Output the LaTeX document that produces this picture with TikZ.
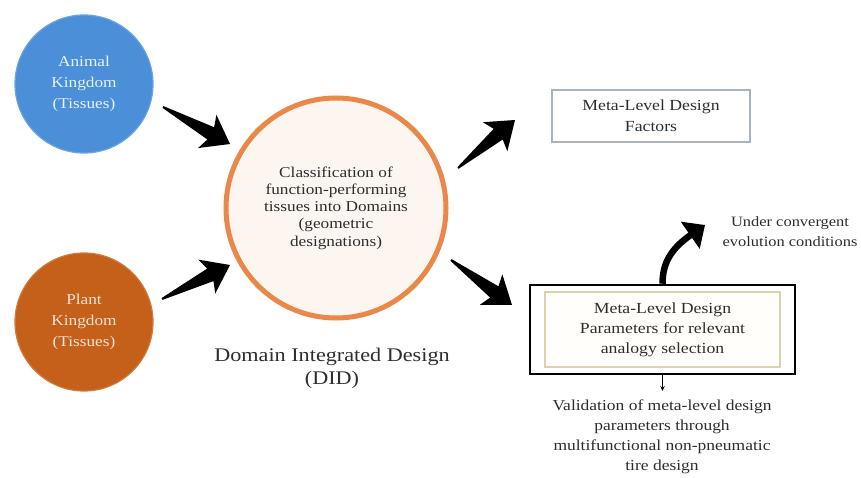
\documentclass[tikz,border=0pt]{standalone}
\usepackage{fontspec}
\setmainfont[FakeStretch=1.15]{Liberation Serif}
\usetikzlibrary{calc,arrows.meta}
\definecolor{textgray}{HTML}{2E2E2E}
\definecolor{animalblue}{HTML}{4A8FD8}
\definecolor{animaledge}{HTML}{6AA3E2}
\definecolor{plantorange}{HTML}{C4601A}
\definecolor{plantedge}{HTML}{D47A3C}
\definecolor{ringorange}{HTML}{E8894A}
\definecolor{ringfill}{HTML}{FDF5F0}
\definecolor{factorsedge}{HTML}{A9B4C2}
\definecolor{inneredge}{HTML}{DCD2B0}
\definecolor{innerfill}{HTML}{FFFEFA}
\newcommand{\blockarrow}[2]{%
  \fill[black] ($(#1)!1pt!90:(#2)$) -- ($(#2)!22pt!(#1)!7pt!-90:(#1)$)
    -- ($(#2)!26pt!(#1)!19pt!-90:(#1)$) -- (#2)
    -- ($(#2)!26pt!(#1)!19pt!90:(#1)$) -- ($(#2)!22pt!(#1)!7pt!90:(#1)$)
    -- ($(#1)!1pt!-90:(#2)$) -- cycle;}
\begin{document}
\begin{tikzpicture}[x=1pt,y=-1pt,
  kingdom/.style={circle, minimum size=138pt, inner sep=0pt, line width=1.2pt,
    align=center, font=\fontsize{15}{21}\selectfont},
  bodytext/.style={text=textgray, align=center, inner sep=2pt},
  ]
\useasboundingbox[fill=white] (0,0) rectangle (861,478);

% kingdoms
\node[kingdom, fill=animalblue, draw=animaledge, text=white!88!animalblue] (animal) at (84,84)
  {Animal\\Kingdom\\(Tissues)};
\node[kingdom, fill=plantorange, draw=plantedge, text=white!82!plantorange] (plant) at (84,322)
  {Plant\\Kingdom\\(Tissues)};

% central circle
\node[circle, minimum size=220pt, inner sep=0pt, draw=ringorange, line width=5pt,
  fill=ringfill, bodytext, font=\fontsize{15}{17.3}\selectfont] (did) at (336,208)
  {Classification of\\function-performing\\tissues into Domains\\(geometric\\designations)};
\node[bodytext, font=\fontsize{19.3}{23}\selectfont] (didlabel) at (332,368)
  {Domain Integrated Design\\(DID)};

% factors box
\node[draw=factorsedge, line width=1.2pt, minimum width=198pt, minimum height=52pt,
  bodytext, font=\fontsize{15.4}{21}\selectfont] (factors) at (651,116)
  {Meta-Level Design\\Factors};

% parameters box
\node[draw=black, line width=2.5pt, minimum width=265pt, minimum height=89pt] (params) at (662.5,329.5) {};
\node[draw=inneredge, fill=innerfill, line width=1.2pt, minimum width=235pt, minimum height=75pt,
  bodytext, font=\fontsize{15.4}{20}\selectfont] (paramsin) at (662.5,329.5)
  {Meta-Level Design\\Parameters for relevant\\analogy selection};

% side texts
\node[bodytext, font=\fontsize{14.3}{20}\selectfont] (conv) at (790,232)
  {Under convergent\\evolution conditions};
\node[bodytext, font=\fontsize{15.2}{20}\selectfont] (valid) at (662,437)
  {Validation of meta-level design\\parameters through\\multifunctional non-pneumatic\\tire design};

% arrow end points
\coordinate (a1s) at (163,107); \coordinate (a1e) at (230,144);
\coordinate (a2s) at (162,299); \coordinate (a2e) at (230,265);
\coordinate (a3s) at (458,168); \coordinate (a3e) at (515,120);
\coordinate (a4s) at (451,260); \coordinate (a4e) at (512,305);
\coordinate (curvetip) at (705,225);
\coordinate (validtop) at (662.5,391);

\blockarrow{a1s}{a1e}
\blockarrow{a2s}{a2e}
\blockarrow{a3s}{a3e}
\blockarrow{a4s}{a4e}

\draw[line width=6.5pt, -{Triangle[length=18pt,width=32pt]}]
  (params.north) .. controls (662.5,262) and (672,248) .. (curvetip);
\draw[line width=0.9pt, -{Stealth[length=5pt,width=4.5pt]}] (params.south) -- (validtop);
\end{tikzpicture}
\end{document}
